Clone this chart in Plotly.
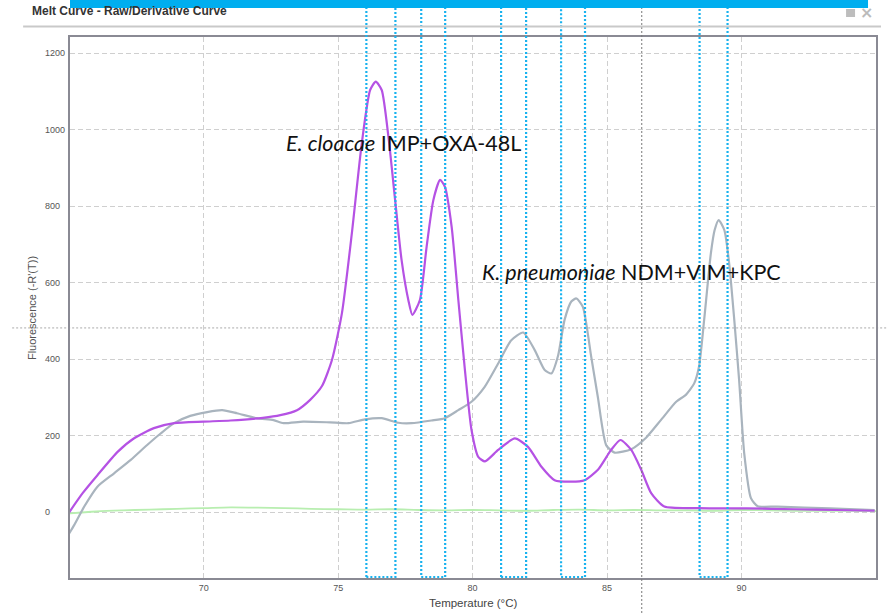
import plotly.graph_objects as go

# ---------------- data ----------------
purple_t = [65.0, 65.5, 66.05, 66.8, 67.4, 68.15, 68.9, 70.0, 71.0, 72.2, 72.85, 73.47, 73.96,
            74.4, 74.77, 75.14, 75.51, 75.88, 76.19, 76.4, 76.62, 76.87, 77.12, 77.36, 77.61,
            77.76, 78.04, 78.29, 78.54, 78.79, 78.97, 79.22, 79.47, 79.71, 79.96, 80.21, 80.46,
            80.95, 81.57, 82.06, 82.56, 83.05, 83.67, 84.16, 84.66, 85.15, 85.5, 85.9, 86.27,
            86.64, 87.13, 88.4, 90.2, 92.0, 93.5, 94.95]
purple_v = [0, 50, 97, 158, 193, 220, 233, 237, 240, 247, 254, 267, 294,
            330, 398, 520, 729, 965, 1104, 1126, 1104, 982, 816, 659, 555,
            516, 555, 694, 816, 869, 851, 747, 555, 375, 215, 145, 133,
            163, 193, 171, 119, 84, 80, 84, 111, 163, 189, 163, 111,
            50, 15, 11, 10, 8, 6, 4]

gray_t = [65.0, 65.19, 65.56, 66.05, 66.67, 67.29, 67.9, 68.4, 68.9, 69.5, 70.13, 70.69, 71.24,
          71.98, 72.6, 72.97, 73.7, 74.7, 75.39, 76.0, 76.62, 77.24, 77.73, 78.47, 78.97,
          79.47, 79.96, 80.45, 80.95, 81.44, 81.88, 82.31, 82.68, 82.93, 83.18, 83.42, 83.67,
          83.86, 84.1, 84.41, 84.66, 84.97, 85.28, 85.9, 86.45, 87.0, 87.57, 87.93, 88.24,
          88.42, 88.61, 88.86, 89.0, 89.15, 89.36, 89.54, 89.73, 89.91, 90.1, 90.35, 90.6,
          91.33, 93.3, 94.95]
gray_v = [-55, -33, 15, 67, 102, 137, 176, 206, 233, 252, 262, 267, 259,
          246, 241, 233, 237, 235, 233, 243, 246, 234, 233, 240, 246,
          267, 289, 328, 389, 450, 470, 424, 372, 363, 410, 503, 551,
          559, 537, 407, 300, 175, 156, 165, 195, 241, 289, 307, 337,
          381, 503, 677, 738, 764, 738, 651, 503, 346, 154, 37, 16,
          15, 10, 6]

green_t = [65, 66, 67, 68, 69, 70, 71, 72, 73, 74, 75, 76, 77, 78, 79, 80,
           81, 82, 83, 84, 85, 86, 87, 88, 89, 90, 91, 92, 93, 94, 95]
green_v = [-3, 2, 5, 7, 9, 11, 13, 12, 11, 9, 8, 7, 8, 6, 5, 6,
           5, 4, 6, 7, 5, 6, 5, 5, 4, 6, 5, 4, 4, 4, 3]

# melt windows (temperature ranges of dotted boxes)
win_lo = [76.05, 78.09, 81.06, 83.29, 88.44]
win_hi = [77.13, 78.98, 81.99, 84.18, 89.48]

x_ticks = [70, 75, 80, 85, 90]
y_ticks = [0, 200, 400, 600, 800, 1000, 1200]

label1 = "<i>E. cloacae</i> IMP+OXA-48L"
label2 = "<i>K. pneumoniae</i> NDM+VIM+KPC"

# ---------------- layout geometry ----------------
W, H = 889, 613
ML, MR, MT, MB = 70, 11, 37, 35
PW, PH = W - ML - MR, H - MT - MB
XR = [65.03, 95.0]
YR = [-171.8, 1242.6]


def px(x):
    return (x - ML) / PW


def py(y):
    return (H - MB - y) / PH


fig = go.Figure()
fig.add_trace(go.Scatter(x=green_t, y=green_v, mode="lines",
                         line=dict(color="#b8eeb0", width=1.8, shape="spline"), hoverinfo="skip"))
fig.add_trace(go.Scatter(x=gray_t, y=gray_v, mode="lines",
                         line=dict(color="#a9b4be", width=2.2, shape="spline", smoothing=0.6),
                         hoverinfo="skip"))
fig.add_trace(go.Scatter(x=purple_t, y=purple_v, mode="lines",
                         line=dict(color="#b552e4", width=2.2, shape="spline", smoothing=0.6),
                         hoverinfo="skip"))

shapes = []
# crosshair lines
shapes.append(dict(type="line", xref="x", yref="paper", x0=86.29, x1=86.29,
                   y0=py(H), y1=py(8), line=dict(color="#777777", width=1, dash="2px,2px"),
                   layer="above"))
shapes.append(dict(type="line", xref="paper", yref="y", x0=px(12), x1=px(W), y0=482, y1=482,
                   line=dict(color="#aaaaaa", width=1, dash="2px,2px"), layer="below"))
# dotted melt windows
for lo, hi in zip(win_lo, win_hi):
    shapes.append(dict(type="rect", xref="x", yref="paper", x0=lo, x1=hi,
                       y0=py(577), y1=py(5),
                       line=dict(color="#19b2ee", width=2.2, dash="2px,2px"), layer="above"))
# separator under window title
shapes.append(dict(type="line", xref="paper", yref="paper", x0=px(23), x1=px(883),
                   y0=py(26.5), y1=py(26.5), line=dict(color="#c9c9c9", width=2), layer="above"))
# blue bar on top
shapes.append(dict(type="rect", xref="paper", yref="paper", x0=px(70), x1=px(870),
                   y0=py(8), y1=py(-1), fillcolor="#00aeef", line=dict(width=0), layer="above"))
# small icon top right
shapes.append(dict(type="rect", xref="paper", yref="paper", x0=px(848), x1=px(857),
                   y0=py(17), y1=py(9), fillcolor="#bdbdbd", line=dict(width=0), layer="above"))

annotations = []
for v in y_ticks:
    annotations.append(dict(xref="paper", yref="y", x=px(43), y=v, text=str(v),
                            xanchor="left", yanchor="middle", showarrow=False,
                            font=dict(family="Liberation Sans", size=9, color="#555555")))
annotations += [
    dict(xref="x", yref="y", x=77.42, y=965, text=label1, showarrow=False,
         xanchor="center", yanchor="middle",
         font=dict(family="Lato", size=21.5, color="#111111")),
    dict(xref="x", yref="y", x=85.92, y=629, text=label2, showarrow=False,
         xanchor="center", yanchor="middle",
         font=dict(family="Lato", size=21.5, color="#111111")),
    dict(xref="paper", yref="paper", x=px(30), y=py(20), text="<b>Melt Curve - Raw/Derivative Curve</b>",
         showarrow=False, xanchor="left", yanchor="bottom",
         font=dict(family="Liberation Sans", size=12, color="#333333")),
    dict(xref="paper", yref="paper", x=px(32), y=py(308), text="Fluorescence (-R'(T))",
         showarrow=False, textangle=-90, xanchor="center", yanchor="middle",
         font=dict(family="Liberation Sans", size=11, color="#555555")),
    dict(xref="paper", yref="paper", x=px(474), y=py(603), text="Temperature (°C)",
         showarrow=False, xanchor="center", yanchor="middle",
         font=dict(family="Liberation Sans", size=11.5, color="#444444")),
    dict(xref="paper", yref="paper", x=px(868), y=py(12), text="<b>×</b>",
         showarrow=False, xanchor="center", yanchor="middle",
         font=dict(family="DejaVu Sans", size=16, color="#bbbbbb")),
]

fig.update_layout(
    width=W, height=H,
    margin=dict(l=ML, r=MR, t=MT, b=MB),
    paper_bgcolor="white", plot_bgcolor="white",
    showlegend=False,
    shapes=shapes, annotations=annotations,
    xaxis=dict(range=XR, tickvals=x_ticks, ticktext=[str(t) for t in x_ticks],
               showgrid=True, gridcolor="#cfcfcf", griddash="5px,3px", gridwidth=1,
               zeroline=False, showline=True, linecolor="#8a8a94", linewidth=2, mirror=True,
               ticks="", tickfont=dict(family="Liberation Sans", size=9, color="#555555")),
    yaxis=dict(range=YR, tickvals=y_ticks, showticklabels=False,
               showgrid=True, gridcolor="#cfcfcf", griddash="5px,3px", gridwidth=1,
               zeroline=False, showline=True, linecolor="#8a8a94", linewidth=2, mirror=True,
               ticks=""),
)

fig.write_html("out.html", config={"displayModeBar": False},
               post_script="document.body.style.margin='0';document.body.style.overflow='hidden';")
